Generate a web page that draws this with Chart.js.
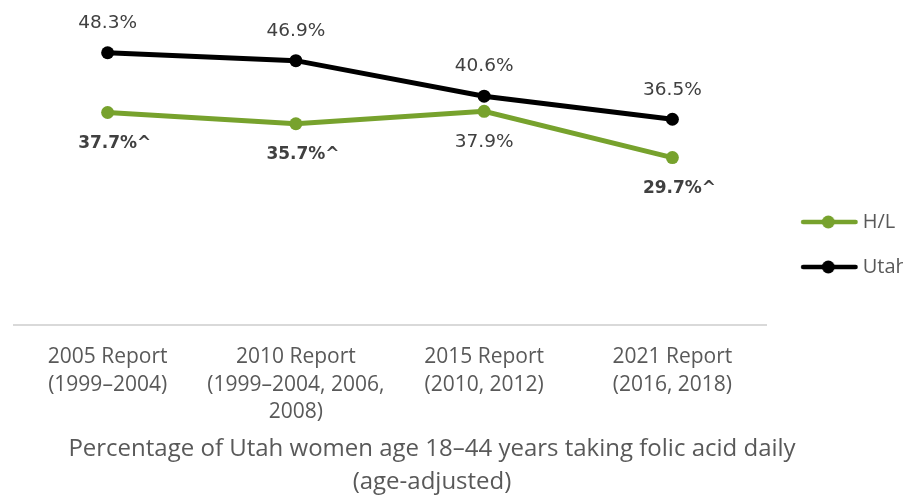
<!DOCTYPE html>
<html lang="en">
<head>
<meta charset="utf-8">
<title>Folic acid, Utah women</title>
<script src="https://cdn.jsdelivr.net/npm/chart.js@4/dist/chart.umd.min.js"></script>
<style>
  html, body { margin: 0; padding: 0; background: #fff; overflow: hidden; }
</style>
</head>
<body>
<canvas id="chart" width="906" height="500"></canvas>

<script>
// data
var reports = [
  ['2005 Report', '(1999\u20132004)'],
  ['2010 Report', '(1999\u20132004, 2006,', '2008)'],
  ['2015 Report', '(2010, 2012)'],
  ['2021 Report', '(2016, 2018)']
];
var hlValues = [37.7, 35.7, 37.9, 29.7];
var utahValues = [48.3, 46.9, 40.6, 36.5];
// ^ = significantly different from Utah overall (shown bold)
var hlFlag = [true, true, false, true];
var utahFlag = [false, false, false, false];
var titleLines = ['Percentage of Utah women age 18\u201344 years taking folic acid daily', '(age-adjusted)'];

var green = '#77a22d';
var black = '#000000';

// legend marker: line with a dot in the middle
function legendIcon(color) {
  var c = document.createElement('canvas');
  c.width = 72; c.height = 16;
  var g = c.getContext('2d');
  g.strokeStyle = color;
  g.lineWidth = 4.5;
  g.lineCap = 'round';
  g.beginPath(); g.moveTo(17, 8); g.lineTo(69.5, 8); g.stroke();
  g.fillStyle = color;
  g.beginPath(); g.arc(42.2, 8, 6.5, 0, Math.PI * 2); g.fill();
  return c;
}
var icons = [legendIcon(green), legendIcon(black)];

// value labels above (Utah) or below (H/L) each point
var pointLabels = {
  id: 'pointLabels',
  afterDatasetsDraw: function(chart) {
    var ctx = chart.ctx;
    chart.data.datasets.forEach(function(ds, i) {
      var meta = chart.getDatasetMeta(i);
      meta.data.forEach(function(pt, j) {
        var txt = ds.data[j].toFixed(1) + '%';
        var bold = ds.flags[j];
        ctx.save();
        ctx.fillStyle = '#404040';
        ctx.textBaseline = 'middle';
        ctx.textAlign = 'left';
        ctx.font = bold ? 'bold 17px "DejaVu Sans"' : '18.5px "DejaVu Sans"';
        var w = ctx.measureText(txt).width;
        var y = ds.labelAbove ? pt.y - 29.5 : pt.y + 31;
        ctx.fillText(bold ? txt + '^' : txt, pt.x - w / 2, y);
        ctx.restore();
      });
    });
  }
};

// axis caption under the tick labels, centred like the original
var bottomTitle = {
  id: 'bottomTitle',
  afterDraw: function(chart) {
    var ctx = chart.ctx;
    ctx.save();
    ctx.font = '24px "Open Sans"';
    ctx.fillStyle = '#595959';
    ctx.textAlign = 'center';
    ctx.textBaseline = 'middle';
    titleLines.forEach(function(t, i) {
      ctx.fillText(t, 432, 449.5 + i * 32.5);
    });
    ctx.restore();
  }
};

new Chart(document.getElementById('chart'), {
  type: 'line',
  data: {
    labels: reports,
    datasets: [
      {
        label: 'H/L',
        data: hlValues,
        flags: hlFlag,
        labelAbove: false,
        borderColor: green,
        backgroundColor: green,
        borderWidth: 5,
        pointRadius: 6.5,
        pointBorderWidth: 0,
        pointBackgroundColor: green,
        tension: 0
      },
      {
        label: 'Utah',
        data: utahValues,
        flags: utahFlag,
        labelAbove: true,
        borderColor: black,
        backgroundColor: black,
        borderWidth: 5,
        pointRadius: 6.5,
        pointBorderWidth: 0,
        pointBackgroundColor: black,
        tension: 0
      }
    ]
  },
  options: {
    responsive: false,
    animation: false,
    layout: { padding: { left: 13.5, right: 3, top: 15, bottom: 73.75 } },
    scales: {
      x: {
        offset: true,
        grid: { display: false, drawTicks: true, tickLength: 18.75 },
        border: { display: true, color: '#d9d9d9', width: 2 },
        ticks: {
          color: '#595959',
          font: { family: '"Open Sans"', size: 21, lineHeight: 1.31 },
          padding: 0,
          autoSkip: false,
          maxRotation: 0,
          minRotation: 0
        }
      },
      y: {
        display: false,
        min: 0,
        max: 55
      }
    },
    plugins: {
      tooltip: { enabled: false },
      title: { display: false },
      legend: {
        position: 'right',
        align: 'start',
        fullSize: false,
        maxWidth: 136.5,
        title: { display: true, text: ' ', padding: { top: 160, bottom: 0 }, font: { size: 12, lineHeight: 1 } },
        labels: {
          usePointStyle: true,
          pointStyleWidth: 61.2,
          padding: 25,
          color: '#595959',
          textAlign: 'left',
          font: { family: '"Open Sans"', size: 20 },
          generateLabels: function(chart) {
            var items = Chart.defaults.plugins.legend.labels.generateLabels(chart);
            items.forEach(function(it, i) { it.pointStyle = icons[i]; });
            return items;
          }
        }
      }
    }
  },
  plugins: [pointLabels, bottomTitle]
});
</script>
</body>
</html>
